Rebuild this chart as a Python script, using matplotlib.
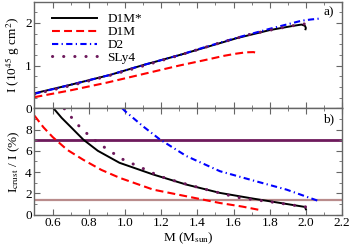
import matplotlib
matplotlib.use('Agg')
import matplotlib.pyplot as plt
from matplotlib.ticker import MultipleLocator, FixedLocator

plt.rcParams['font.family'] = ['Liberation Serif', 'DejaVu Serif']
plt.rcParams['mathtext.fontset'] = 'stix'
plt.rcParams['font.size'] = 9.5

# ---- panel a): moment of inertia I (10^45 g cm^2) vs M (Msun)
m_d1ms_a = [0.5, 0.7, 0.917, 1.1, 1.305, 1.433, 1.617, 1.8, 1.93, 1.976, 1.995, 2.0, 1.998]
i_d1ms_a = [0.35, 0.55, 0.78, 1.01, 1.25, 1.41, 1.64, 1.83, 1.93, 1.96, 1.93, 1.88, 1.85]
m_d1m_a = [0.5, 0.7, 0.9, 1.1, 1.3, 1.433, 1.55, 1.617, 1.67, 1.71, 1.737]
i_d1m_a = [0.26, 0.42, 0.6, 0.8, 1.0, 1.12, 1.23, 1.28, 1.31, 1.315, 1.29]
m_d2_a = [0.5, 0.7, 0.917, 1.1, 1.305, 1.433, 1.617, 1.8, 1.93, 1.976, 2.03, 2.077]
i_d2_a = [0.34, 0.55, 0.78, 1.01, 1.25, 1.42, 1.65, 1.86, 2.0, 2.05, 2.08, 2.1]
m_sly_a = [0.5, 0.7, 0.9, 1.1, 1.3, 1.5, 1.7, 1.85, 1.95, 2.0, 2.035]
i_sly_a = [0.33, 0.53, 0.75, 0.99, 1.24, 1.5, 1.74, 1.87, 1.95, 1.98, 1.99]

# ---- panel b): crustal fraction Icrust/I (%) vs M
m_d1ms_b = [0.60, 0.65, 0.70, 0.77, 0.85, 0.97, 1.156, 1.34, 1.525, 1.71, 1.893, 1.995, 2.0]
f_d1ms_b = [10.1, 9.1, 8.25, 7.05, 6.0, 4.87, 3.77, 2.82, 2.04, 1.5, 1.0, 0.72, 0.5]
m_d1m_b = [0.5, 0.55, 0.6, 0.68, 0.77, 0.87, 0.972, 1.156, 1.34, 1.525, 1.65, 1.737]
f_d1m_b = [9.3, 8.2, 7.3, 6.1, 5.15, 4.2, 3.45, 2.35, 1.72, 1.09, 0.75, 0.46]
m_d2_b = [0.985, 1.0, 1.1, 1.193, 1.34, 1.525, 1.71, 1.893, 2.05, 2.075]
f_d2_b = [10.0, 9.74, 8.3, 7.07, 5.5, 4.08, 3.2, 2.35, 1.4, 1.25]
m_sly_b = [0.665, 0.733, 0.775, 0.81, 0.86, 0.90, 0.99, 1.092, 1.193, 1.295, 1.451, 1.617, 1.82, 1.95, 2.044]
f_sly_b = [9.96, 8.55, 7.86, 7.3, 6.66, 6.16, 5.18, 4.4, 3.6, 3.07, 2.35, 1.63, 1.16, 0.84, 0.62]

hlines_b = [7.0, 1.41]
hline_colors = ['#6e1a5c', '#b98c8c']
hline_widths = [2.0, 1.6]

labels = ['D1M*', 'D1M', 'D2', 'SLy4']
colors = ['black', '#ff0000', '#0000ff', '#6e1a5c']
styles = ['-', (0, (3.8, 2)), (0, (3, 1.6, 0.6, 1.6)), (0, (0.05, 3.6))]
widths = [1.4, 1.5, 1.5, 2.2]
caps = ['butt', 'butt', 'butt', 'round']

fig = plt.figure(figsize=(3.53, 2.5), dpi=100)
ax1 = fig.add_axes([0.0977, 0.567, 0.8713, 0.427])
ax2 = fig.add_axes([0.0977, 0.1416, 0.8713, 0.4254])

data_a = [(m_d1ms_a, i_d1ms_a), (m_d1m_a, i_d1m_a), (m_d2_a, i_d2_a), (m_sly_a, i_sly_a)]
data_b = [(m_d1ms_b, f_d1ms_b), (m_d1m_b, f_d1m_b), (m_d2_b, f_d2_b), (m_sly_b, f_sly_b)]

for y, c, w in zip(hlines_b, hline_colors, hline_widths):
    ax2.axhline(y, color=c, lw=w, zorder=1)

for k in range(4):
    ax1.plot(*data_a[k], color=colors[k], ls=styles[k], lw=widths[k],
             dash_capstyle=caps[k], label=labels[k])
    ax2.plot(*data_b[k], color=colors[k], ls=styles[k], lw=widths[k],
             dash_capstyle=caps[k])

for ax in (ax1, ax2):
    ax.set_xlim(0.5, 2.2)
    ax.xaxis.set_major_locator(MultipleLocator(0.2))
    ax.xaxis.set_minor_locator(MultipleLocator(0.1))
    ax.tick_params(which='both', direction='in', top=True, right=True,
                   color='0.4', labelsize=9.5, pad=2)
    ax.tick_params(which='major', length=4)
    ax.tick_params(which='minor', length=2.5)
    for s in ax.spines.values():
        s.set_color('0.4')
        s.set_linewidth(1.0)

ax1.set_ylim(0, 2.5)
ax1.yaxis.set_major_locator(FixedLocator([0, 1, 2]))
ax1.yaxis.set_minor_locator(MultipleLocator(0.25))
ax1.tick_params(labelbottom=False)
ax1.set_ylabel('I (10$^{45}$ g cm$^2$)', labelpad=2)
ax1.text(0.975, 0.9, 'a)', transform=ax1.transAxes, ha='right', va='center')
ax1.legend(loc='upper left', frameon=False, handlelength=3.4, handletextpad=0.8,
           labelspacing=0.05, borderaxespad=0.0, bbox_to_anchor=(0.04, 0.94))

ax2.set_ylim(0, 10)
ax2.yaxis.set_major_locator(FixedLocator([0, 2, 4, 6, 8]))
ax2.yaxis.set_minor_locator(MultipleLocator(1))
ax2.set_ylabel('I$_{\\rm crust}$ / I (%)', labelpad=2)
ax2.set_xlabel('M (M$_{\\rm sun}$)', labelpad=1)
ax2.text(0.975, 0.9, 'b)', transform=ax2.transAxes, ha='right', va='center')

fig.savefig('out.png', dpi=100)
